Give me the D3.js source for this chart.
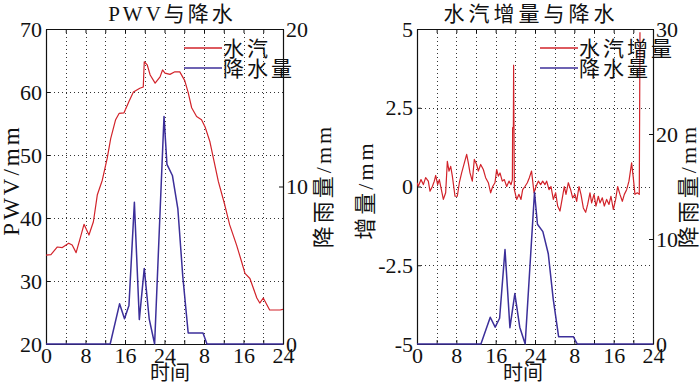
<!DOCTYPE html>
<html><head><meta charset="utf-8">
<script src="https://cdn.jsdelivr.net/npm/d3@7"></script>
<style>
html,body{margin:0;padding:0;background:#fff;}
svg{display:block;}
text{font-family:"Liberation Serif","Noto Sans CJK SC",serif;fill:#111;}
</style></head><body>
<svg id="chart" width="700" height="386"></svg>
<script>
// ---------------- data ----------------
const hourTicks = [0,4,8,12,16,20,24,28,32,36,40,44,48];
const hourLabels = ["0","","8","","16","","24","","8","","16","","24"];

const pwvHours  = [0,1.0,2.3,3.3,4.6,5.3,6.1,7.0,7.7,8.7,9.6,10.4,11.4,12.4,13.1,14.1,14.8,15.8,16.8,17.7,19.0,19.7,19.9,20.5,21.1,22.1,23.1,23.6,24.1,25.1,26.1,27.1,28.1,28.8,29.5,30.5,31.5,32.2,33.2,33.9,34.9,36.2,37.2,38.6,39.6,40.3,41.3,42.7,43.3,44.0,45.3,47.4,48];
const pwvValues = [34.1,34.2,35.4,35.3,36.0,35.7,34.5,37.0,39.0,37.3,39.4,43.7,46.0,49.5,52.6,55.6,56.6,56.7,58.5,60.0,60.6,60.8,64.8,64.3,62.7,61.4,62.4,63.5,63.0,62.8,63.2,63.2,61.8,59.9,57.5,56.1,55.6,54.5,52.1,49.5,45.8,42.1,38.9,35.7,33.1,31.2,30.4,27.3,26.5,27.3,25.4,25.4,25.5];

const rainHours  = [0,13.0,14.9,15.9,16.8,17.9,18.9,19.9,20.9,22.0,23.9,24.5,25.6,26.7,27.7,28.8,31.8,32.6,48];
const rainValues = [0,0,2.55,1.6,2.45,9.0,1.55,4.8,1.6,0,14.45,11.4,10.7,8.6,4.3,0.7,0.7,0,0];

const incHours  = [0,0.27,0.81,1.29,1.76,2.30,2.64,3.12,3.52,3.80,4.20,4.54,4.88,5.36,5.83,6.17,6.51,6.85,7.19,7.73,8.20,8.61,9.08,9.63,10.10,10.44,10.78,11.25,11.66,12.13,12.47,12.95,13.49,13.96,14.51,14.98,15.39,15.86,16.20,16.54,16.88,17.35,17.76,18.24,18.71,19.12,19.40,19.45,19.60,19.65,19.80,20.27,20.74,21.15,21.49,21.96,22.44,22.85,23.30,23.80,24.20,24.68,25.15,25.56,26.03,26.37,26.85,27.25,27.73,28.20,28.61,29.08,29.56,29.96,30.30,30.78,31.25,31.66,32.13,32.47,32.95,33.35,33.83,34.30,34.71,35.18,35.52,36.00,36.40,36.88,37.22,37.69,38.10,38.57,39.05,39.45,39.93,40.40,40.81,41.28,41.76,42.17,42.64,43.11,43.65,43.99,44.33,44.80,45.21,45.35];
const incValues = [0.12,0.01,0.22,0.06,0.28,0.17,-0.15,0.0,0.17,0.35,0.06,0.22,-0.04,-0.41,-0.2,0.8,0.49,0.64,0.33,-0.31,-0.31,0.12,0.43,0.75,1.02,0.75,0.43,0.17,0.86,0.7,0.49,0.7,0.54,0.28,0.12,-0.2,0.0,0.12,0.54,0.33,0.43,0.17,0.22,0.0,0.17,0.06,0.22,1.87,1.87,3.85,-0.1,-0.41,-0.25,-0.41,-0.1,0.0,0.12,0.28,0.49,-0.2,0.0,0.17,0.06,0.17,0.06,0.17,-0.1,0.0,-0.41,-0.2,-0.62,-0.78,-0.36,0.0,-0.25,0.12,-0.1,-0.36,-0.25,-0.47,0.0,-0.25,-0.68,-0.82,-0.57,-0.2,-0.52,-0.25,-0.62,-0.31,-0.52,-0.36,-0.62,-0.41,-0.57,-0.31,-0.73,-0.41,0.0,-0.25,-0.47,-0.25,-0.1,0.17,0.75,0.28,-0.25,-0.2,-0.25,4.9];

const pwvTicks = [20,30,40,50,60,70];
const pwvTickLabels = ["20","30","40","50","60","70"];
const rainTicksA = [0,10,20];
const rainTickLabelsA = ["0","10","20"];
const incTicks = [-5,-2.5,0,2.5,5];
const incTickLabels = ["-5","-2.5","0","2.5","5"];
const rainTicksB = [0,10,20,30];
const rainTickLabelsB = ["0","10","20","30"];

// ---------------- drawing ----------------
const RED = "#d2232a", BLUE = "#3c2f9a";
const svg = d3.select("#chart");

function panel(cfg){
  const g = svg.append("g");
  const x = d3.scaleLinear().domain([0,48]).range([cfg.x0,cfg.x1]);
  const yL = d3.scaleLinear().domain(cfg.yDom).range([cfg.y1,cfg.y0]);
  const yR = d3.scaleLinear().domain(cfg.rDom).range([cfg.y1,cfg.y0]);

  // grid
  const grid = g.append("g").attr("stroke","#333").attr("stroke-width",1).attr("stroke-dasharray","1,3");
  grid.selectAll("line.v").data(hourTicks.slice(1,-1)).join("line")
    .attr("x1",d=>Math.round(x(d))+0.5).attr("x2",d=>Math.round(x(d))+0.5)
    .attr("y1",cfg.y0).attr("y2",cfg.y1);
  grid.selectAll("line.h").data(cfg.lTicks.slice(1,-1)).join("line")
    .attr("y1",d=>Math.round(yL(d))+0.5).attr("y2",d=>Math.round(yL(d))+0.5)
    .attr("x1",cfg.x0).attr("x2",cfg.x1);

  // axes
  const fs = "22px";
  const bottom = g.append("g").attr("transform",`translate(0,${cfg.y1})`)
    .call(d3.axisBottom(x).tickValues(hourTicks).tickFormat((d,i)=>hourLabels[i]).tickSizeInner(-4).tickSizeOuter(0).tickPadding(3));
  const top = g.append("g").attr("transform",`translate(0,${cfg.y0})`)
    .call(d3.axisTop(x).tickValues(hourTicks).tickFormat("").tickSizeInner(-4).tickSizeOuter(0));
  const left = g.append("g").attr("transform",`translate(${cfg.x0},0)`)
    .call(d3.axisLeft(yL).tickValues(cfg.lTicks).tickFormat((d,i)=>cfg.lLabels[i]).tickSizeInner(-4).tickSizeOuter(0).tickPadding(4));
  const right = g.append("g").attr("transform",`translate(${cfg.x1},0)`)
    .call(d3.axisRight(yR).tickValues(cfg.rTicks).tickFormat((d,i)=>cfg.rLabels[i]).tickSizeInner(-4).tickSizeOuter(0).tickPadding(3));
  [bottom,top,left,right].forEach(a=>{
    a.selectAll("path").attr("stroke","#111").attr("stroke-width",1.2);
    a.selectAll("line").attr("stroke","#111");
    a.selectAll("text").style("font-size",fs).attr("fill","#111")
      .style("font-family","'Liberation Serif',serif");
  });

  // clip
  const cid = "clip"+cfg.id;
  svg.append("clipPath").attr("id",cid).append("rect")
    .attr("x",cfg.x0).attr("y",cfg.y0-1).attr("width",cfg.x1-cfg.x0).attr("height",cfg.y1-cfg.y0+2);

  const lineL = d3.line().x((d,i)=>x(cfg.mainH[i])).y(d=>yL(d));
  const lineR = d3.line().x((d,i)=>x(rainHours[i])).y(d=>yR(d));
  g.append("path").datum(cfg.mainV).attr("d",lineL).attr("fill","none")
    .attr("stroke",RED).attr("stroke-width",1.2).attr("stroke-linejoin","round").attr("clip-path",`url(#${cid})`);
  g.append("path").datum(rainValues).attr("d",lineR).attr("fill","none")
    .attr("stroke",BLUE).attr("stroke-width",1.5).attr("stroke-linejoin","round").attr("clip-path",`url(#${cid})`);

  // title
  g.append("text").attr("x",cfg.titleX).attr("y",21).attr("text-anchor","middle")
    .style("font-size","21px").style("letter-spacing",cfg.titleLS).text(cfg.title);
  // x label
  g.append("text").attr("x",cfg.xlabX).attr("y",380).attr("text-anchor","middle")
    .style("font-size","20px").style("font-family","'Noto Sans CJK SC'").text("时间");
  // y labels
  g.append("text").attr("transform",`translate(${cfg.ylX},${cfg.ylY}) rotate(-90)`).attr("text-anchor","middle")
    .style("font-size",cfg.ylFS).style("letter-spacing","3px").text(cfg.yLabel);
  g.append("text").attr("transform",`translate(${cfg.yrX},${cfg.yrY}) rotate(-90)`).attr("text-anchor","middle")
    .style("font-size","22px").style("letter-spacing","3px").text("降雨量/mm");

  // legend
  const lg = g.append("g");
  [[cfg.legMain,RED,48],["降水量",BLUE,68]].forEach(([t,c,yy])=>{
    lg.append("line").attr("x1",cfg.legX).attr("x2",cfg.legX+38).attr("y1",yy).attr("y2",yy)
      .attr("stroke",c).attr("stroke-width",1.3);
    lg.append("text").attr("x",cfg.legX+39).attr("y",yy+8).style("font-size","21px")
      .style("letter-spacing","3px").style("font-family","'Noto Sans CJK SC'").text(t);
  });
}

panel({id:"A",x0:46,x1:283,y0:29,y1:344,yDom:[20,70],rDom:[0,20],
  lTicks:pwvTicks,lLabels:pwvTickLabels,rTicks:rainTicksA,rLabels:rainTickLabelsA,
  mainH:pwvHours,mainV:pwvValues,title:"PWV与降水",titleX:172,titleLS:"3px",
  xlabX:170,ylX:19,ylY:180,ylFS:"23px",yLabel:"PWV/mm",yrX:331,yrY:186,
  legMain:"水汽",legX:184});

panel({id:"B",x0:417,x1:653,y0:29,y1:344,yDom:[-5,5],rDom:[0,30],
  lTicks:incTicks,lLabels:incTickLabels,rTicks:rainTicksB,rLabels:rainTickLabelsB,
  mainH:incHours,mainV:incValues,title:"水汽增量与降水",titleX:531,titleLS:"4px",
  xlabX:523,ylX:373,ylY:190,ylFS:"22px",yLabel:"增量/mm",yrX:696,yrY:186,
  legMain:"水汽增量",legX:540});
</script>
</body></html>
